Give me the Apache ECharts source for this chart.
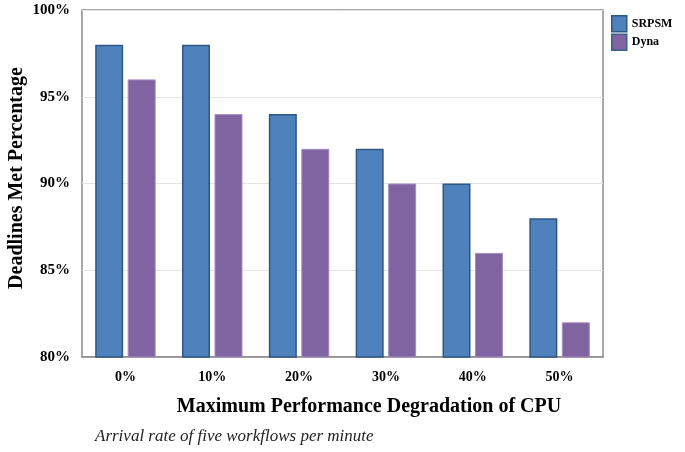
<!DOCTYPE html>
<html><head><meta charset="utf-8">
<script src="https://cdn.jsdelivr.net/npm/echarts@6/dist/echarts.min.js"></script>
<style>html,body{margin:0;padding:0;background:#fff}#c{width:685px;height:452px}</style>
</head><body><div id="c"></div>
<script>
const categories = ['0%', '10%', '20%', '30%', '40%', '50%'];
const srpsm = [98, 98, 94, 92, 90, 88];
const dyna = [96, 94, 92, 90, 86, 82];
const yTicks = [80, 85, 90, 95, 100];

const chart = echarts.init(document.getElementById('c'), null, {renderer: 'canvas'});
const serif = '"Liberation Serif", "Times New Roman", serif';
chart.setOption({
  animation: false,
  backgroundColor: '#fff',
  grid: {left: 82, right: 82, top: 10, bottom: 95, containLabel: false, outerBoundsMode: 'none',
    show: true, borderColor: '#8c8c8c', borderWidth: 1.5, backgroundColor: 'transparent'},
  legend: {
    orient: 'vertical', left: 611, top: 15, padding: 0, itemWidth: 15, itemHeight: 16, itemGap: 1,
    icon: 'rect',
    textStyle: {fontFamily: serif, fontWeight: 'bold', fontSize: 12, color: '#000', width: 40, align: 'center'},
    data: [
      {name: 'SRPSM', itemStyle: {color: '#4F81BD', borderColor: '#2f5785', borderWidth: 1.5}},
      {name: 'Dyna', itemStyle: {color: '#8064A2', borderColor: '#3d5f8c', borderWidth: 1.5}}
    ]
  },
  xAxis: {
    type: 'category', data: categories,
    axisLine: {show: true, lineStyle: {color: '#8c8c8c', width: 1.5}},
    axisTick: {show: false},
    axisLabel: {fontFamily: serif, fontWeight: 'bold', fontSize: 14, color: '#000', margin: 13}
  },
  yAxis: {
    type: 'value', min: 80, max: 100, interval: 5,
    axisLine: {show: false}, axisTick: {show: false},
    splitLine: {lineStyle: {color: '#e3e3e3', width: 1}},
    axisLabel: {fontFamily: serif, fontWeight: 'bold', fontSize: 15, color: '#000', margin: 12,
      formatter: v => yTicks.includes(v) ? v + '%' : ''}
  },
  series: [
    {name: 'SRPSM', type: 'bar', data: srpsm, barWidth: 28, barGap: '16%',
      itemStyle: {color: '#4F81BD', borderColor: '#2f5785', borderWidth: 1.5}},
    {name: 'Dyna', type: 'bar', data: dyna, barWidth: 28,
      itemStyle: {color: '#8064A2', borderColor: '#a58cc2', borderWidth: 1}}
  ],
  graphic: [{
    type: 'text', x: 17, y: 178, rotation: Math.PI / 2,
    style: {text: 'Deadlines Met Percentage', fontFamily: serif, fontWeight: 'bold', fontSize: 20, fill: '#000', align: 'center', verticalAlign: 'middle'}
  }, {
    type: 'text', x: 369, y: 407,
    style: {text: 'Maximum Performance Degradation of CPU', fontFamily: serif, fontWeight: 'bold', fontSize: 20, fill: '#000', align: 'center', verticalAlign: 'middle'}
  }, {
    type: 'text', left: 95, top: 428,
    style: {text: 'Arrival rate of five workflows per minute', fontFamily: serif, fontStyle: 'italic', fontSize: 17, fill: '#222'}
  }]
});
</script></body></html>
